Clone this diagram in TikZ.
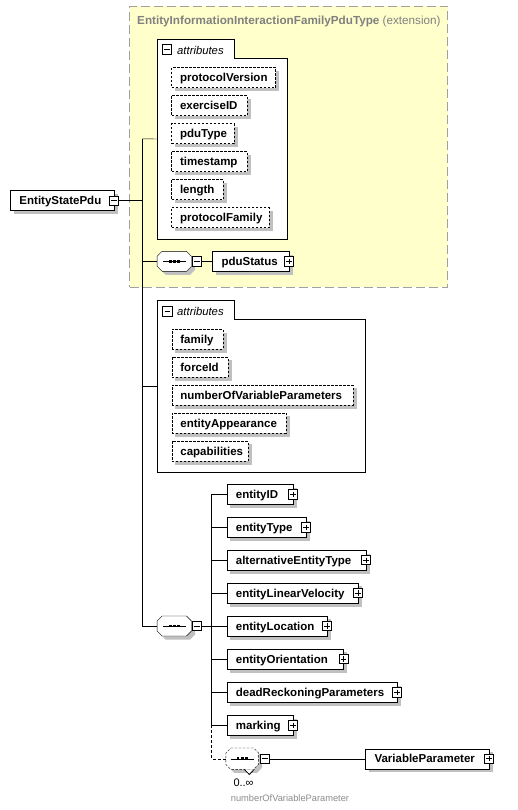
\documentclass[tikz,border=0pt]{standalone}
\usepackage{fontspec}
\setmainfont{Liberation Sans}
\usetikzlibrary{calc}
\pgfdeclarelayer{bgzero}
\pgfdeclarelayer{shadowlayer}
\pgfsetlayers{bgzero,shadowlayer,main}
\definecolor{extfill}{RGB}{255,255,204}
\definecolor{extborder}{RGB}{160,160,160}
\definecolor{shgray}{RGB}{192,192,192}
\definecolor{titlegray}{RGB}{128,128,128}
\definecolor{smallgray}{RGB}{140,140,140}
\newcommand{\octpath}[2]{($(#1.north west)+(5+#2,#2)$) -- ($(#1.north east)+(-5+#2,#2)$) -- ($(#1.north east)+(#2,5+#2)$) -- ($(#1.south east)+(#2,-5+#2)$) -- ($(#1.south east)+(-5+#2,#2)$) -- ($(#1.south west)+(5+#2,#2)$) -- ($(#1.south west)+(#2,-5+#2)$) -- ($(#1.north west)+(#2,5+#2)$) -- cycle}
\newcommand{\xsdseq}[2]{%
  \begin{pgfonlayer}{shadowlayer}\fill[shgray] \octpath{#1}{3.5};\end{pgfonlayer}
  \draw[fill=white, #2] \octpath{#1}{0};
  \draw ($(#1.center)+(-11.5,0)$) -- ($(#1.center)+(12,0)$);
  \foreach \dx in {-4.2,0,4.2} \fill ($(#1.center)+(\dx-1.4,-1.4)$) rectangle ++(2.8,2.8);
}
\tikzset{
  lbl/.style={font=\fontsize{11.5}{13}\selectfont\bfseries},
  elem/.style={draw, fill=white, lbl, anchor=west, minimum height=20pt, inner xsep=9pt, inner ysep=0pt, text height=9.5pt, text depth=1pt, align=left, text width=#1},
  attrbox/.style={elem=#1, inner xsep=8.5pt, dash pattern=on 2.5pt off 1.5pt},
  expm/.style={draw, fill=white, minimum size=9.3pt, inner sep=0pt, line width=0.9pt,
    path picture={\draw[line width=0.9pt] ([xshift=2pt]path picture bounding box.west) -- ([xshift=-2pt]path picture bounding box.east);}},
  expp/.style={expm, path picture={\draw[line width=0.9pt] ([xshift=2pt]path picture bounding box.west) -- ([xshift=-2pt]path picture bounding box.east);
    \draw[line width=0.9pt] ([yshift=-2pt]path picture bounding box.north) -- ([yshift=2pt]path picture bounding box.south);}},
  seqnode/.style={inner sep=0pt, minimum width=34pt, minimum height=19.6pt},
  grp/.style={inner sep=0pt, anchor=north west},
  extbox/.style={draw=extborder, fill=extfill, dash pattern=on 9pt off 4pt, inner sep=0pt, anchor=north west},
  tabtxt/.style={anchor=base west, inner sep=0pt, font=\fontsize{11.3}{13}\selectfont\itshape},
}
\begin{document}
\begin{tikzpicture}[x=1pt, y=-1pt, line width=1pt]
\useasboundingbox (0,0) rectangle (518,810);
\begin{pgfonlayer}{bgzero}
\fill[white] (0,0) rectangle (518,810);
% extension frame
\node[extbox, minimum width=318pt, minimum height=281.3pt] (ext) at (129.3,5.7) {};
% attribute group frames
\node[grp, minimum width=129pt, minimum height=199pt] (ag1) at (157.3,39.3) {};
\draw[fill=white] (ag1.north west) -- ++(77,0) -- ++(0,19.4) -| (ag1.south east) -- (ag1.south west) -- cycle;
\node[grp, minimum width=207pt, minimum height=171.7pt] (ag2) at (157.3,300) {};
\draw[fill=white] (ag2.north west) -- ++(77,0) -- ++(0,19.3) -| (ag2.south east) -- (ag2.south west) -- cycle;
\end{pgfonlayer}

\node[anchor=base west, inner sep=0pt, text=titlegray, font=\fontsize{11.7}{13}\selectfont] (title) at (137,24.3) {\textbf{EntityInformationInteractionFamilyPduType} (extension)};

% attributes group 1
\node[expm] (ag1x) at (167,49.5) {};
\node[tabtxt] (ag1t) at (177,54.2) {attributes};
\node[attrbox=87pt] (pv) at (171.3,77.7) {protocolVersion};
\node[attrbox=58.7pt] (exid) at (171.3,105.7) {exerciseID};
\node[attrbox=45.4pt] (pdut) at (171.3,133.7) {pduType};
\node[attrbox=58.7pt] (ts) at (171.3,161.7) {timestamp};
\node[attrbox=34.7pt] (len) at (171.3,189.7) {length};
\node[attrbox=80.4pt] (pf) at (171.3,217.7) {protocolFamily};

% root element
\node[elem=85.4pt] (esp) at (10.3,200.7) {EntityStatePdu};
\node[expm] (espx) at (esp.east) {};

% sequence 1
\node[seqnode] (seq1) at (174.3,261.3) {};
\xsdseq{seq1}{}
\node[expm] (seq1x) at (197,261.3) {};
\node[elem=58.4pt] (pdus) at (212.3,261.3) {pduStatus};
\node[expp] (pdusx) at (pdus.east) {};

% attributes group 2
\node[expm] (ag2x) at (167.3,311.3) {};
\node[tabtxt] (ag2t) at (177,315.2) {attributes};
\node[attrbox=34pt] (fam) at (171.7,339.3) {family};
\node[attrbox=39pt] (fid) at (171.7,367) {forceId};
\node[attrbox=164pt] (nvp) at (171.7,395) {numberOfVariableParameters};
\node[attrbox=97.3pt] (eapp) at (171.7,423) {entityAppearance};
\node[attrbox=59pt] (cap) at (171.7,451) {capabilities};

% sequence 2
\node[seqnode] (seq2) at (174.3,626) {};
\xsdseq{seq2}{}
\node[expm] (seq2x) at (197,626) {};

\node[elem=48pt] (eid) at (226.7,494.5) {entityID};
\node[elem=61pt] (etype) at (226.7,527.3) {entityType};
\node[elem=121pt] (alt) at (226.7,560.2) {alternativeEntityType};
\node[elem=113pt] (vel) at (226.7,593) {entityLinearVelocity};
\node[elem=82pt] (loc) at (226.7,626) {entityLocation};
\node[elem=98.6pt] (ori) at (226.7,659) {entityOrientation};
\node[elem=152pt] (drp) at (226.7,692.3) {deadReckoningParameters};
\node[elem=48pt] (mark) at (226.7,725.3) {marking};
\foreach \n in {eid,etype,alt,vel,loc,ori,drp,mark} \node[expp] (\n-x) at (\n.east) {};

% sequence 3 (0..unbounded)
\node[seqnode, minimum width=32.3pt, minimum height=21pt] (seq3) at (242.2,758.7) {};
\xsdseq{seq3}{dash pattern=on 2.5pt off 1.5pt}
\draw[fill=white, line width=0.8pt] (244.3,769.3) -- (249.3,774.5) -- (254.3,769.3);
\node[expm] (seq3x) at (265,758.7) {};
\node[elem=105.4pt] (vp) at (365.3,758.7) {VariableParameter};
\node[expp] (vpx) at (vp.east) {};
\node[anchor=base west, inner sep=0pt, font=\fontsize{11}{13}\selectfont] (occ) at (233.3,786.7) {0..∞};
\node[anchor=base west, inner sep=0pt, text=smallgray, font=\fontsize{9.3}{11}\selectfont] (grpname) at (230.7,801.2) {numberOfVariableParameter};

% box shadows
\begin{pgfonlayer}{shadowlayer}
\foreach \n in {esp,pv,exid,pdut,ts,len,pf,pdus,fam,fid,nvp,eapp,cap,eid,etype,alt,vel,loc,ori,drp,mark,vp}
  \fill[shgray] ($(\n.south west)+(3.5,3.5)$) rectangle ($(\n.north east)+(3.5,3.5)$);
\end{pgfonlayer}

% connectors
\coordinate (tA) at (142.3,138.8);
\coordinate (tB) at (142.3,626);
\coordinate (bx) at (211.3,626);
\draw (tA) -- (tB);
\draw (espx.east) -- (espx.east -| tA);
\draw (tA) -- (ag1.west);
\draw (seq1.west -| tA) -- (seq1.west);
\draw (seq1x.east) -- (pdus.west);
\draw (ag2.west -| tA) -- (ag2.west);
\draw (tB) -- (seq2.west);
\draw (seq2x.east) -- (bx);
\draw (eid.west -| bx) -- (mark.west -| bx);
\foreach \n in {eid,etype,alt,vel,loc,ori,drp,mark} \draw (\n.west -| bx) -- (\n.west);
\draw[dash pattern=on 3pt off 2pt] (mark.west -| bx) -- (seq3.west -| bx) -- (seq3.west);
\draw (seq3x.east) -- (vp.west);
\end{tikzpicture}
\end{document}
